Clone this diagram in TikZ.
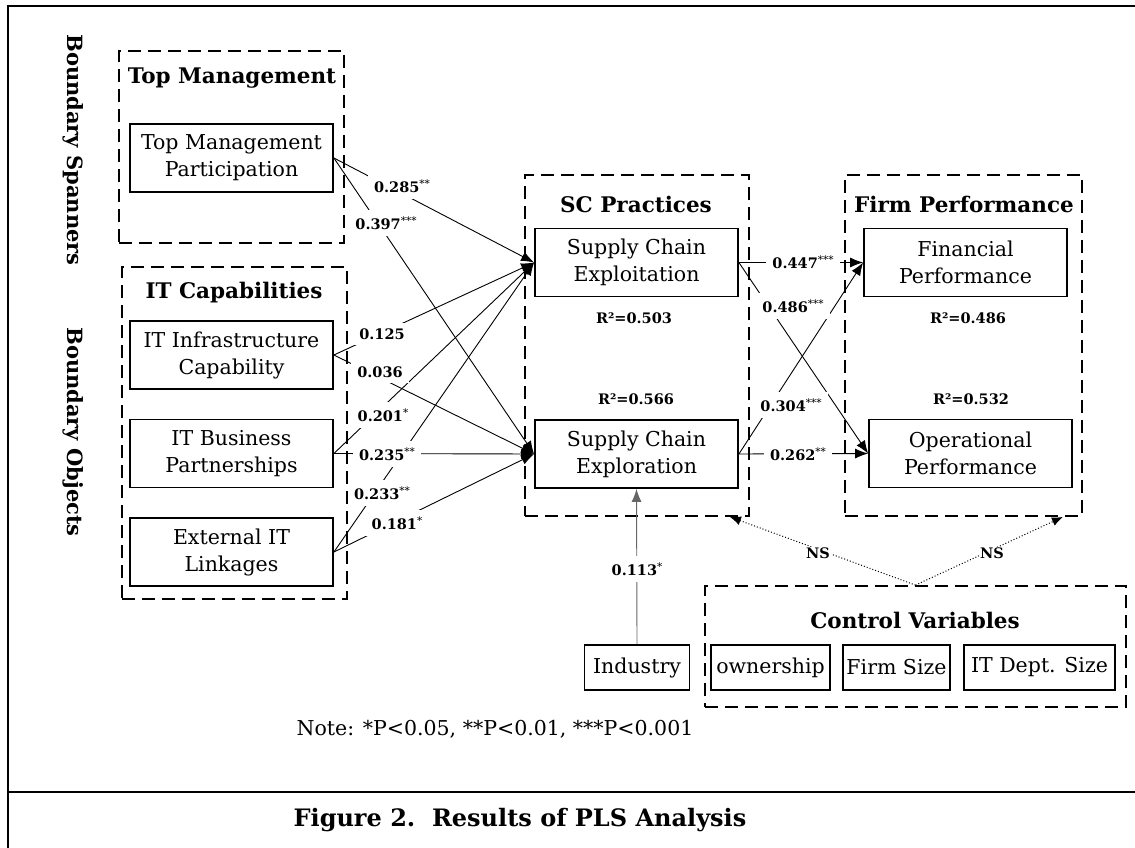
\documentclass[tikz,border=0pt]{standalone}
\usepackage{fontspec}
\setmainfont{DejaVu Serif}
\usetikzlibrary{arrows.meta,calc}
\newcommand{\pstar}[1]{\raisebox{0.36em}{\fontsize{10.5}{10.5}\mdseries\selectfont #1}}
\begin{document}
\begin{tikzpicture}[x=1pt,y=-1pt,
  box/.style={draw, line width=1.8pt, minimum width=203pt, minimum height=68pt, align=center, inner sep=0pt, font=\fontsize{20.5}{27}\selectfont},
  smallbox/.style={draw, line width=1.8pt, minimum height=45pt, inner sep=0pt, font=\fontsize{20.5}{24}\selectfont},
  grp/.style={draw, line width=1.8pt, dash pattern=on 13pt off 7pt, inner sep=0pt},
  ttl/.style={font=\bfseries\fontsize{21.5}{25}\selectfont, inner sep=0pt},
  side/.style={font=\bfseries\fontsize{21}{25}\selectfont, inner sep=0pt, rotate=-90},
  lbl/.style={fill=white, inner xsep=6pt, inner ysep=6pt, font=\bfseries\fontsize{14.5}{17}\selectfont},
  rsq/.style={font=\bfseries\fontsize{14.5}{17}\selectfont, inner sep=0pt},
  arr/.style={-{Latex[length=13pt,width=10pt]}, line width=0.9pt},
  ctl/.style={dotted, line width=1pt, -{Latex[length=11pt,width=9pt]}},
  frame/.style={line width=2.6pt}
]
\useasboundingbox (0,0) rectangle (1135,848);

% frame
\coordinate (ftl) at (8,6);
\coordinate (ftr) at (1136,6);
\coordinate (fbl) at (8,849);
\coordinate (dl) at (8,792);
\coordinate (dr) at (1136,792);
\draw[frame] (ftr) -- (ftl) -- (fbl);
\draw[frame] (dl) -- (dr);

% side labels
\node[side] (bs) at (73,150) {Boundary Spanners};
\node[side] (bo) at (73,432) {Boundary Objects};

% groups
\node[grp, minimum width=225pt, minimum height=192pt] (gtm) at (231.5,147) {};
\node[grp, minimum width=225pt, minimum height=332pt] (git) at (234.5,433) {};
\node[grp, minimum width=224pt, minimum height=341pt] (gsc) at (637,345.5) {};
\node[grp, minimum width=237pt, minimum height=341pt] (gfp) at (963.5,345.5) {};
\node[grp, minimum width=421pt, minimum height=121pt] (gcv) at (915.5,646.5) {};

% titles
\node[ttl] (ttm) at (232,78) {Top Management};
\node[ttl] (tit) at (234,293) {IT Capabilities};
\node[ttl] (tsc) at (636,204) {SC Practices};
\node[ttl] (tfp) at (964,204) {Firm Performance};
\node[ttl] (tcv) at (915,620) {Control Variables};

% boxes
\node[box] (tmp) at (231.5,158) {Top Management\\Participation};
\node[box] (iti) at (231.5,355) {IT Infrastructure\\Capability};
\node[box] (itb) at (231.5,453.5) {IT Business\\Partnerships};
\node[box] (ext) at (231.5,552) {External IT\\Linkages};
\node[box] (sce) at (636.5,262.5) {Supply Chain\\Exploitation};
\node[box] (scr) at (636.5,454) {Supply Chain\\Exploration};
\node[box] (fp) at (965.5,262.5) {Financial\\Performance};
\node[box] (op) at (970.5,453.5) {Operational\\Performance};

\node[smallbox, minimum width=105pt] (ind) at (637,667.5) {Industry};
\node[smallbox, minimum width=119pt] (own) at (770.5,667.5) {ownership};
\node[smallbox, minimum width=107pt] (fsz) at (896.5,667.5) {Firm Size};
\node[smallbox, minimum width=151pt] (its) at (1039.5,667.5) {IT Dept. Size};

% R squared
\node[rsq] (r1) at (634,318) {R²=0.503};
\node[rsq] (r2) at (636,399) {R²=0.566};
\node[rsq] (r3) at (968,318) {R²=0.486};
\node[rsq] (r4) at (971,399) {R²=0.532};

% connectors
\draw[arr] (tmp.east) -- (sce.west);
\draw[arr] (tmp.east) -- (scr.west);
\draw[arr] (iti.east) -- (sce.west);
\draw[arr] (iti.east) -- (scr.west);
\draw[arr] (itb.east) -- (sce.west);
\draw[arr] (itb.east) -- (scr.west);
\draw[arr] (ext.east) -- (sce.west);
\draw[arr] (ext.east) -- (scr.west);
\draw[arr] (sce.east) -- (fp.west);
\draw[arr] (sce.east) -- (op.west);
\draw[arr] (scr.east) -- (fp.west);
\draw[arr] (scr.east) -- (op.west);
\draw[arr, draw=black!60] (ind.north) -- (scr.south);

\coordinate (scin) at ($(gsc.south east)+(-20,0)$);
\coordinate (fpin) at ($(gfp.south east)+(-20,0)$);
\draw[ctl] (gcv.north) -- (scin);
\draw[ctl] (gcv.north) -- (fpin);

% path labels
\node[lbl] (l1) at (402,186) {0.285\pstar{**}};
\node[lbl] (l2) at (386,223) {0.397\pstar{***}};
\node[lbl] (l3) at (382,334) {0.125};
\node[lbl] (l4) at (380,372) {0.036};
\node[lbl] (l5) at (383,415) {0.201\pstar{*}};
\node[lbl] (l6) at (387,454) {0.235\pstar{**}};
\node[lbl] (l7) at (382,493) {0.233\pstar{**}};
\node[lbl] (l8) at (397,523) {0.181\pstar{*}};
\node[lbl] (l9) at (803,262) {0.447\pstar{***}};
\node[lbl] (l10) at (793,306) {0.486\pstar{***}};
\node[lbl] (l11) at (791,405) {0.304\pstar{***}};
\node[lbl] (l12) at (798,454) {0.262\pstar{**}};
\node[lbl] (l13) at (637,569) {0.113\pstar{*}};
\node[lbl, inner sep=1pt] (ns1) at (818,553) {NS};
\node[lbl, inner sep=1pt] (ns2) at (992,553) {NS};

% note and caption
\node[font=\fontsize{20.5}{24}\selectfont, inner sep=0pt] (note) at (495,729) {Note: *P<0.05, **P<0.01, ***P<0.001};
\node[font=\bfseries\fontsize{24}{28}\selectfont, inner sep=0pt] (cap) at (520,820) {Figure 2.\ \ Results of PLS Analysis};
\end{tikzpicture}
\end{document}
